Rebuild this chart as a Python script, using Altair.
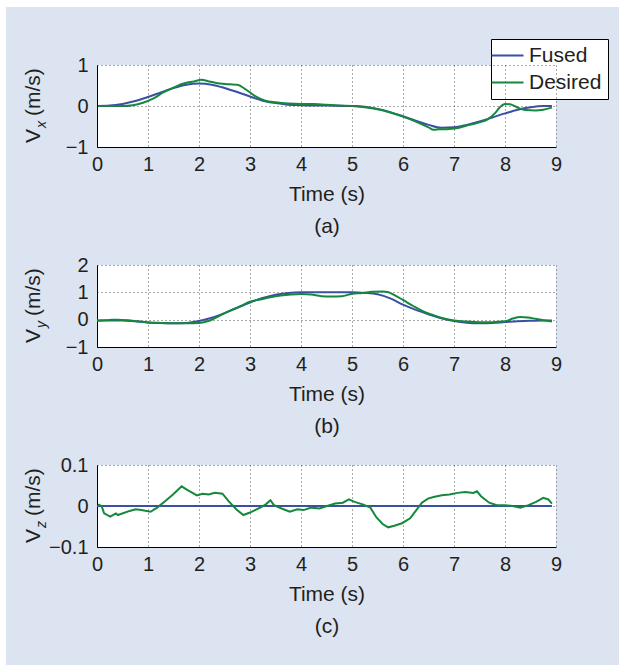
import altair as alt
import pandas as pd

FONT = "Liberation Sans"
BLUE = "#3a4fa6"
GREEN = "#14883c"
BG = "#dce3f1"
TEXT = "#231f20"
W, H = 459, 82

# ---------------- Panel (a): Vx ----------------
a_fused_t = [0, 0.25, 0.5, 0.75, 1.0, 1.25, 1.5, 1.75, 2.0, 2.25, 2.5, 2.75, 3.0, 3.25, 3.5, 3.75,
             4.0, 4.5, 5.0, 5.25, 5.5, 5.75, 6.0, 6.25, 6.5, 6.75, 7.0, 7.25, 7.5, 7.75, 8.0,
             8.25, 8.5, 8.75, 8.92]
a_fused_v = [0, 0.01, 0.05, 0.12, 0.22, 0.33, 0.44, 0.52, 0.55, 0.52, 0.44, 0.34, 0.23, 0.13, 0.07,
             0.03, 0.02, 0.01, 0.0, -0.02, -0.07, -0.15, -0.25, -0.36, -0.46, -0.53, -0.52, -0.46,
             -0.38, -0.28, -0.18, -0.09, -0.03, 0.0, 0.0]
a_des_t = [0, 0.25, 0.5, 0.7, 0.9, 1.1, 1.3, 1.5, 1.7, 1.9, 2.05, 2.2, 2.4, 2.6, 2.75, 2.9, 3.1,
           3.3, 3.5, 3.75, 4.0, 4.25, 4.5, 4.75, 5.0, 5.25, 5.5, 5.75, 6.0, 6.25, 6.5, 6.6, 6.7,
           6.9, 7.1, 7.3, 7.5, 7.65, 7.8, 7.9, 8.0, 8.1, 8.25, 8.4, 8.6, 8.75, 8.92]
a_des_v = [0, 0, 0.0, 0.02, 0.08, 0.18, 0.33, 0.45, 0.55, 0.6, 0.64, 0.6, 0.55, 0.53, 0.52, 0.42,
           0.24, 0.13, 0.09, 0.06, 0.05, 0.05, 0.03, 0.01, 0.0, -0.03, -0.08, -0.16, -0.26, -0.38,
           -0.52, -0.58, -0.57, -0.56, -0.53, -0.46, -0.4, -0.33, -0.18, -0.03, 0.05, 0.04, -0.04,
           -0.1, -0.11, -0.09, -0.04]

# ---------------- Panel (b): Vy ----------------
b_fused_t = [0, 0.5, 0.75, 1.0, 1.25, 1.5, 1.75, 2.0, 2.25, 2.5, 2.75, 3.0, 3.25, 3.5, 3.75, 4.0,
             5.0, 5.25, 5.5, 5.75, 6.0, 6.25, 6.5, 6.75, 7.0, 7.25, 7.5, 7.75, 8.0, 8.25, 8.5,
             8.75, 8.92]
b_fused_v = [-0.03, -0.03, -0.06, -0.1, -0.12, -0.13, -0.12, -0.05, 0.07, 0.24, 0.44, 0.63, 0.79,
             0.91, 0.98, 1.0, 1.0, 0.98, 0.93, 0.78, 0.55, 0.36, 0.2, 0.05, -0.05, -0.11, -0.13,
             -0.12, -0.09, -0.06, -0.04, -0.03, -0.03]
b_des_t = [0, 0.25, 0.4, 0.6, 0.8, 1.0, 1.25, 1.5, 1.75, 2.0, 2.2, 2.4, 2.6, 2.8, 3.0, 3.2, 3.4,
           3.6, 3.8, 4.0, 4.2, 4.4, 4.6, 4.8, 5.0, 5.2, 5.4, 5.6, 5.7, 5.85, 6.0, 6.2, 6.4, 6.6,
           6.8, 7.0, 7.25, 7.5, 7.75, 8.0, 8.15, 8.3, 8.45, 8.6, 8.75, 8.92]
b_des_v = [-0.04, -0.01, 0.0, -0.02, -0.06, -0.1, -0.12, -0.13, -0.13, -0.12, -0.04, 0.14, 0.32,
           0.48, 0.66, 0.74, 0.82, 0.88, 0.92, 0.94, 0.92, 0.86, 0.85, 0.86, 0.95, 0.98, 1.02,
           1.03, 1.01, 0.88, 0.72, 0.5, 0.3, 0.16, 0.04, -0.03, -0.07, -0.09, -0.09, -0.06, 0.04,
           0.1, 0.08, 0.03, -0.02, -0.07]

# ---------------- Panel (c): Vz ----------------
c_fused_t = [0, 8.92]
c_fused_v = [0.0, 0.0]
c_des_t = [0.02, 0.09, 0.14, 0.26, 0.37, 0.41, 0.64, 0.76, 0.87, 1.05, 1.18, 1.34, 1.49, 1.66, 1.76,
           1.96, 2.07, 2.19, 2.31, 2.46, 2.58, 2.73, 2.87, 3.0, 3.2, 3.31, 3.4, 3.47, 3.62, 3.78,
           3.93, 4.05, 4.2, 4.36, 4.51, 4.67, 4.82, 4.94, 5.05, 5.21, 5.36, 5.48, 5.6, 5.71, 5.83,
           5.98, 6.14, 6.25, 6.37, 6.49, 6.6, 6.76, 6.91, 7.07, 7.22, 7.38, 7.45, 7.53, 7.69,
           7.84, 8.0, 8.15, 8.3, 8.46, 8.61, 8.75, 8.85, 8.92]
c_des_v = [0.004, 0.0, -0.018, -0.026, -0.018, -0.022, -0.012, -0.008, -0.01, -0.014, -0.004,
           0.012, 0.028, 0.048, 0.04, 0.026, 0.03, 0.028, 0.032, 0.03, 0.012, -0.008, -0.022,
           -0.016, -0.004, 0.004, 0.014, 0.002, -0.006, -0.014, -0.008, -0.01, -0.004, -0.006,
           0.0, 0.006, 0.008, 0.016, 0.01, 0.004, -0.004, -0.028, -0.044, -0.052, -0.048, -0.042,
           -0.03, -0.012, 0.008, 0.018, 0.022, 0.026, 0.028, 0.032, 0.034, 0.032, 0.036, 0.024,
           0.008, 0.002, 0.002, 0.0, -0.004, 0.002, 0.01, 0.02, 0.016, 0.006]

SERIES = ["Fused", "Desired"]


def frame(t, v, name):
    return pd.DataFrame({"t": t, "v": v, "series": name})


def one_row():
    return alt.InlineData(values=[{"k": 1}])


def panel(fused, desired, ydom, yvals, ylabel_expr, sub, letter, first):
    x_enc = alt.X(
        "t:Q",
        scale=alt.Scale(domain=[0, 9], nice=False, zero=False),
        axis=alt.Axis(values=list(range(10)), format="d", title=["Time (s)", f"({letter})"],
                      zindex=1 if first else 0),
    )
    y_enc = alt.Y(
        "v:Q",
        scale=alt.Scale(domain=ydom, nice=False, zero=False),
        axis=alt.Axis(values=yvals, labelExpr=ylabel_expr, title=None, zindex=1 if first else 0),
    )
    if first:
        color = alt.Color(
            "series:N",
            scale=alt.Scale(domain=SERIES, range=[BLUE, GREEN]),
            legend=alt.Legend(
                title=None, orient="none", legendX=394, legendY=-26,
                symbolType="M-2,0H2", symbolSize=256, symbolStrokeWidth=2,
                labelFont=FONT, labelFontSize=21, labelColor=TEXT, labelOffset=11,
                fillColor="white", strokeColor="black", padding=6, rowPadding=5,
                cornerRadius=0,
            ),
        )
        l1 = alt.Chart(fused).mark_line(strokeWidth=2, interpolate="monotone").encode(
            x=x_enc, y=y_enc, color=color)
        l2 = alt.Chart(desired).mark_line(strokeWidth=2, interpolate="monotone").encode(
            x=x_enc, y=y_enc, color=color)
    else:
        interp = "monotone" if letter == "b" else "linear"
        l1 = alt.Chart(fused).mark_line(strokeWidth=2, color=BLUE, interpolate="monotone").encode(
            x=x_enc, y=y_enc)
        l2 = alt.Chart(desired).mark_line(strokeWidth=2, color=GREEN, interpolate=interp).encode(
            x=x_enc, y=y_enc)

    t_v = alt.Chart(one_row()).mark_text(
        angle=270, align="left", baseline="alphabetic", font=FONT, fontSize=21, color=TEXT
    ).encode(x=alt.value(-57), y=alt.value(78), text=alt.value("V"))
    t_s = alt.Chart(one_row()).mark_text(
        angle=270, align="left", baseline="alphabetic", font=FONT, fontSize=14,
        fontStyle="italic", color=TEXT
    ).encode(x=alt.value(-51), y=alt.value(63), text=alt.value(sub))
    t_u = alt.Chart(one_row()).mark_text(
        angle=270, align="left", baseline="alphabetic", font=FONT, fontSize=21, color=TEXT
    ).encode(x=alt.value(-57), y=alt.value(51), text=alt.value("(m/s)"))

    layers = []
    if first:
        page = alt.Chart(one_row()).mark_rect(color="white").encode(
            x=alt.value(-97), x2=alt.value(522), y=alt.value(-65), y2=alt.value(600))
        blue = alt.Chart(one_row()).mark_rect(color=BG).encode(
            x=alt.value(-91), x2=alt.value(522), y=alt.value(-58), y2=alt.value(600))
        plotbg = alt.Chart(one_row()).mark_rect(color="white").encode(
            x=alt.value(0), x2=alt.value(W), y=alt.value(0), y2=alt.value(H))
        layers += [page, blue, plotbg]
    layers += [l1, l2, t_v, t_s, t_u]
    return alt.layer(*layers).properties(width=W, height=H)


pa = panel(frame(a_fused_t, a_fused_v, "Fused"), frame(a_des_t, a_des_v, "Desired"),
           [-1, 1], [-1, 0, 1], "format(datum.value, 'd')", "x", "a", True)
pb = panel(frame(b_fused_t, b_fused_v, "Fused"), frame(b_des_t, b_des_v, "Desired"),
           [-1, 2], [-1, 0, 1, 2], "format(datum.value, 'd')", "y", "b", False)
pc = panel(frame(c_fused_t, c_fused_v, "Fused"), frame(c_des_t, c_des_v, "Desired"),
           [-0.1, 0.1], [-0.1, 0, 0.1],
           "datum.value == 0 ? '0' : format(datum.value, '.1f')", "z", "c", False)

chart = alt.vconcat(pa, pb, pc, spacing=118, bounds="flush").resolve_legend(
    color="independent"
).properties(
    padding=0, background=BG
).configure_view(
    stroke=None, fill="white"
).configure_axis(
    grid=True, gridColor="#555555", gridDash=[1, 3], gridWidth=1,
    domainColor="black", domainWidth=1, ticks=False,
    labelFont=FONT, labelFontSize=20, labelColor=TEXT, labelFlush=False,
    labelOverlap=False, labelBound=False,
    titleFont=FONT, titleFontSize=21, titleFontWeight="normal", titleColor=TEXT,
).configure_axisX(
    labelPadding=7, titlePadding=9, titleLineHeight=32
).configure_axisY(
    labelPadding=9
)

chart.save("out.html", embed_options={"renderer": "svg", "actions": False})
